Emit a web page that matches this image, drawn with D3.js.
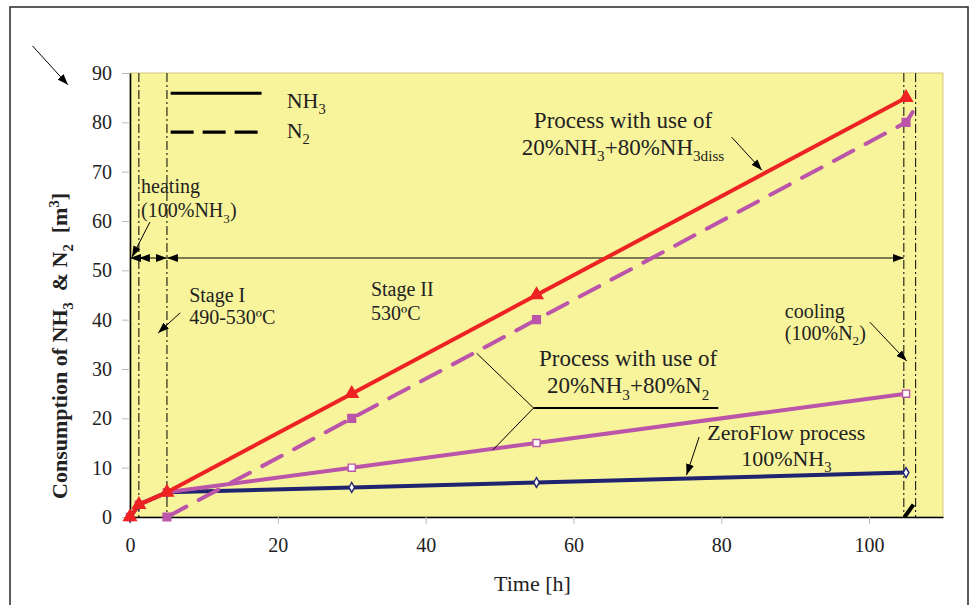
<!DOCTYPE html>
<html>
<head>
<meta charset="utf-8">
<script src="https://cdn.jsdelivr.net/npm/d3@7"></script>
<style>
  body { margin: 0; background: #fff; }
  svg text { font-family: "Liberation Serif", "Times New Roman", serif; fill: #222; white-space: pre; }
</style>
</head>
<body>
<svg id="chart" width="972" height="605"></svg>
<script>
// data
const hours = [0, 1.2, 5, 30, 55, 105];
const nh3Diss = [0, 2.5, 5, 25, 45, 85];          // NH3, process 20%NH3+80%NH3diss
const n2DissHours = [5, 30, 55, 105, 106.3];
const n2Diss = [0, 20, 40, 80, 83];               // N2, process 20%NH3+80%NH3diss
const nh3N2 = [0, 2.5, 5, 10, 15, 25];            // process 20%NH3+80%N2
const zeroFlow = [0, 2.5, 5, 6, 7, 9];            // ZeroFlow process
const coolingHours = [104.8, 106];
const coolingN2 = [0, 2.5];
const stageBounds = [1.2, 5, 104.7, 106.3];
const xTicks = [0, 20, 40, 60, 80, 100];
const yTicks = [0, 10, 20, 30, 40, 50, 60, 70, 80, 90];

const svg = d3.select("#chart");
const m = {left: 130, right: 29, top: 73, bottom: 88};
const W = 972, H = 605;
const x = d3.scaleLinear().domain([0, 110]).range([m.left, W - m.right]);
const y = d3.scaleLinear().domain([0, 90]).range([H - m.bottom, m.top]);

const RED = "#ee2222", MAG = "#bb55aa", NAVY = "#1f2370";

// arrowheads
const defs = svg.append("defs");
defs.append("marker")
  .attr("id", "arr")
  .attr("markerUnits", "userSpaceOnUse")
  .attr("markerWidth", 11).attr("markerHeight", 8)
  .attr("refX", 11).attr("refY", 4)
  .attr("orient", "auto-start-reverse")
  .append("path").attr("d", "M0,0 L11,4 L0,8 Z").attr("fill", "#000");

// outer frame
svg.append("rect")
  .attr("x", 10).attr("y", 7).attr("width", 958).attr("height", 620)
  .attr("fill", "none").attr("stroke", "#333").attr("stroke-width", 1.6);

// plot background
svg.append("rect")
  .attr("x", x(0)).attr("y", y(90))
  .attr("width", x(110) - x(0)).attr("height", y(0) - y(90))
  .attr("fill", "#f8f49c").attr("stroke", "#d2ca7e").attr("stroke-width", 1);

// axes
const xAxis = svg.append("g").attr("transform", `translate(0,${y(0)})`)
  .call(d3.axisBottom(x).tickValues(xTicks).tickSize(7).tickSizeOuter(0).tickPadding(14).tickFormat(d3.format("d")));
const yAxis = svg.append("g").attr("transform", `translate(${x(0)},0)`)
  .call(d3.axisLeft(y).tickValues(yTicks).tickSize(8).tickSizeOuter(0).tickPadding(10).tickFormat(d3.format("d")));
[xAxis, yAxis].forEach(a => {
  a.select(".domain").attr("stroke", "#000").attr("stroke-width", 1.6);
  a.selectAll(".tick line").attr("stroke", "#bbb");
  a.selectAll(".tick text")
    .attr("font-family", "Liberation Serif, Times New Roman, serif")
    .attr("font-size", 20).attr("fill", "#333");
});

// stage boundaries (dash-dot)
svg.append("g").selectAll("line").data(stageBounds).join("line")
  .attr("x1", d => x(d)).attr("x2", d => x(d))
  .attr("y1", y(90)).attr("y2", y(0))
  .attr("stroke", "#000").attr("stroke-width", 1)
  .attr("stroke-dasharray", "9,3,2,3");

// stage arrows at 52.5
const stageY = 52.5;
svg.append("line")
  .attr("x1", x(0)).attr("x2", x(stageBounds[0]))
  .attr("y1", y(stageY)).attr("y2", y(stageY))
  .attr("stroke", "#000").attr("marker-start", "url(#arr)");
[[stageBounds[0], stageBounds[1]], [stageBounds[1], stageBounds[2]]].forEach(([a, b]) => {
  svg.append("line")
    .attr("x1", x(a)).attr("x2", x(b))
    .attr("y1", y(stageY)).attr("y2", y(stageY))
    .attr("stroke", "#000").attr("stroke-width", 1)
    .attr("marker-start", "url(#arr)").attr("marker-end", "url(#arr)");
});

// series
const line = d3.line().x(d => x(d[0])).y(d => y(d[1]));
const zip = (xs, ys) => xs.map((v, i) => [v, ys[i]]);

function drawSeries(pts, color, opts) {
  const g = svg.append("g");
  g.append("path").datum(pts)
    .attr("d", line).attr("fill", "none")
    .attr("stroke", color).attr("stroke-width", opts.width || 4)
    .attr("stroke-linejoin", "round").attr("stroke-linecap", opts.dash ? "round" : "butt")
    .attr("stroke-dasharray", opts.dash || null);
  if (opts.symbol) {
    const mk = opts.markerCount ? pts.slice(0, opts.markerCount) : pts;
    g.selectAll("path.mk").data(mk).join("path")
      .attr("class", "mk")
      .attr("transform", d => `translate(${x(d[0])},${y(d[1])})`)
      .attr("d", d3.symbol().type(opts.symbol).size(opts.size || 50))
      .attr("fill", opts.fill).attr("stroke", color).attr("stroke-width", 1.4);
  }
}

drawSeries(zip(hours, zeroFlow), NAVY, {symbol: d3.symbolDiamond, size: 28, fill: "#fff"});
drawSeries(zip(hours, nh3N2), MAG, {symbol: d3.symbolSquare, size: 50, fill: "#fff"});
drawSeries(zip(n2DissHours, n2Diss), MAG, {dash: "22,14", symbol: d3.symbolSquare, size: 60, fill: MAG, markerCount: 4});
drawSeries(zip(coolingHours, coolingN2), "#000", {width: 4});
drawSeries(zip(hours, nh3Diss), RED, {symbol: d3.symbolTriangle, size: 70, fill: RED});

// legend
const legX = [5.5, 17.8];
svg.append("line")
  .attr("x1", x(legX[0])).attr("x2", x(legX[1])).attr("y1", y(85.9)).attr("y2", y(85.9))
  .attr("stroke", "#000").attr("stroke-width", 3.2);
svg.append("line")
  .attr("x1", x(legX[0])).attr("x2", x(17.3)).attr("y1", y(78)).attr("y2", y(78))
  .attr("stroke", "#000").attr("stroke-width", 3.2).attr("stroke-dasharray", "23,9");

// rich text helper: parts are strings or [text, "sub"|"sup"]
function rich(px, py, parts, size, anchor, weight) {
  const t = svg.append("text")
    .attr("x", px).attr("y", py)
    .attr("font-size", size)
    .attr("text-anchor", anchor || "start")
    .attr("font-weight", weight || "normal");
  let shift = 0;
  parts.forEach(p => {
    const [s, k] = typeof p === "string" ? [p, null] : p;
    const target = k === "sub" ? size * 0.28 : k === "sup" ? -size * 0.38 : 0;
    t.append("tspan").attr("dy", target - shift)
      .attr("font-size", k ? size * 0.66 : size).text(s);
    shift = target;
  });
  return t;
}

rich(x(21.2), y(82.9), ["NH", ["3", "sub"]], 22);
rich(x(21.2), y(76.8), ["N", ["2", "sub"]], 22);

// annotations
rich(x(1.5), y(65.7), ["heating"], 20);
rich(x(1.5), y(60.8), ["(100%NH", ["3", "sub"], ")"], 20);
rich(x(8.0), y(43.6), ["Stage I"], 20);
rich(x(8.0), y(39.1), ["490-530ºC"], 20);
rich(x(32.6), y(44.8), ["Stage II"], 20);
rich(x(32.6), y(39.9), ["530ºC"], 20);
rich(x(66.7), y(78.9), ["Process with use of"], 23, "middle");
rich(x(66.7), y(73.4), ["20%NH", ["3", "sub"], "+80%NH", ["3diss", "sub"]], 23, "middle");
rich(x(67.4), y(30.6), ["Process with use of"], 23, "middle");
rich(x(67.4), y(25.1), ["20%NH", ["3", "sub"], "+80%N", ["2", "sub"]], 23, "middle");
rich(x(88.8), y(15.6), ["ZeroFlow process"], 22, "middle");
rich(x(88.8), y(10.3), ["100%NH", ["3", "sub"]], 22, "middle");
rich(x(88.6), y(40.3), ["cooling"], 20);
rich(x(88.6), y(35.9), ["(100%N", ["2", "sub"], ")"], 20);

const arrows = [
  [[-13.2, 95.5], [-8.4, 87.6]],
  [[2.7, 59.8], [0.27, 52.7]],
  [[6.8, 41.4], [3.8, 37.3]],
  [[81.4, 77.0], [85.5, 70.3]],
  [[77.0, 16.2], [75.3, 8.5]],
  [[100.1, 39.5], [105.1, 31.6]]
];
svg.append("g").selectAll("line").data(arrows).join("line")
  .attr("x1", d => x(d[0][0])).attr("y1", d => y(d[0][1]))
  .attr("x2", d => x(d[1][0])).attr("y2", d => y(d[1][1]))
  .attr("stroke", "#000").attr("stroke-width", 1)
  .attr("marker-end", "url(#arr)");

// bracket pointing at the 20%NH3+80%N2 lines
const hub = [54.6, 22.1];
svg.append("line")
  .attr("x1", x(hub[0])).attr("y1", y(hub[1])).attr("x2", x(79.6)).attr("y2", y(hub[1]))
  .attr("stroke", "#000").attr("stroke-width", 2);
[[46.9, 33.2], [49.1, 13.6]].forEach(p => {
  svg.append("line")
    .attr("x1", x(hub[0])).attr("y1", y(hub[1])).attr("x2", x(p[0])).attr("y2", y(p[1]))
    .attr("stroke", "#000").attr("stroke-width", 1);
});

// axis titles
rich((x(0) + x(110)) / 2 - 4, 591, ["Time [h]"], 22, "middle");
rich(0, 0, ["Consumption of NH", ["3", "sub"], "  & N", ["2", "sub"], "  [m", ["3", "sup"], "]"], 22, "middle", "bold")
  .attr("transform", "translate(67,346) rotate(-90)");
</script>
</body>
</html>
